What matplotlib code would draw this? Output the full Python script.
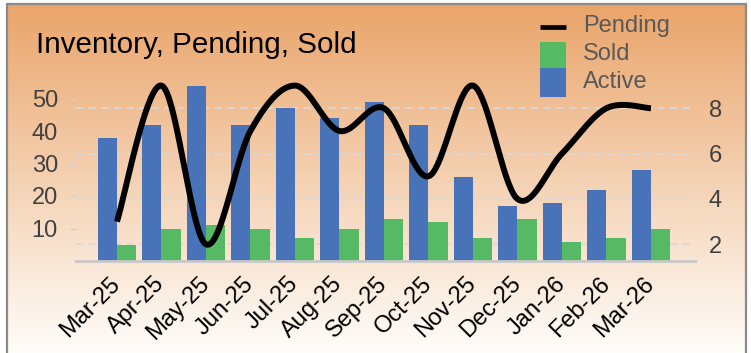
import numpy as np
import matplotlib
matplotlib.use("Agg")
import matplotlib.pyplot as plt
from matplotlib.patches import Rectangle
from matplotlib.lines import Line2D

plt.rcParams['font.family'] = ['Liberation Sans', 'DejaVu Sans']

months = ["Mar-25", "Apr-25", "May-25", "Jun-25", "Jul-25", "Aug-25", "Sep-25",
          "Oct-25", "Nov-25", "Dec-25", "Jan-26", "Feb-26", "Mar-26"]
active = [38, 42, 54, 42, 47, 44, 49, 42, 26, 17, 18, 22, 28]
sold = [5, 10, 11, 10, 7, 10, 13, 12, 7, 13, 6, 7, 10]
pending = [3, 9, 2, 7, 9, 7, 8, 5, 9, 4, 6, 8, 8]

left_ticks = [10, 20, 30, 40, 50]
right_ticks = [2, 4, 6, 8]

BLUE = "#4873B9"
GREEN = "#56B963"
W, H = 751, 353
LEFT_LIM = (0, 56)
RIGHT_LIM = (1.263, 9.29)


def smooth(xs, ys, n=40):
    """Catmull-Rom style Bezier smoothing through the points."""
    xs = np.asarray(xs, float)
    ys = np.asarray(ys, float)
    pts = np.column_stack([xs, ys])
    outx, outy = [], []
    for i in range(len(pts) - 1):
        p1, p2 = pts[i], pts[i + 1]
        p0 = pts[i - 1] if i > 0 else p1
        p3 = pts[i + 2] if i + 2 < len(pts) else p2
        c1 = p1 + (p2 - p0) / 6.0
        c2 = p2 - (p3 - p1) / 6.0
        t = np.linspace(0, 1, n)[:, None]
        seg = ((1 - t) ** 3) * p1 + 3 * ((1 - t) ** 2) * t * c1 \
            + 3 * (1 - t) * t ** 2 * c2 + t ** 3 * p2
        outx.extend(seg[:, 0])
        outy.extend(seg[:, 1])
    return np.array(outx), np.array(outy)


def px(xp, yp):
    """Pixel position (from top-left) to figure fraction."""
    return xp / W, 1 - yp / H


fig = plt.figure(figsize=(W / 100, H / 100), dpi=100)
fig.patch.set_facecolor("white")

# gradient background inside the frame
bg = fig.add_axes([8 / W, 0, (746 - 8) / W, 1 - 5 / H])
bg.set_axis_off()
top = np.array([234, 165, 107]) / 255
bot = np.array([255, 253, 250]) / 255
t = np.linspace(0, 1, 256)[:, None]
grad = top[None, :] * (1 - t) + bot[None, :] * t
bg.imshow(grad[:, None, :], aspect="auto", extent=[0, 1, 0, 1])
bg.set_xlim(0, 1)
bg.set_ylim(0, 1)
fig.patches.append(Rectangle((7 / W, -0.05), (746 - 7) / W, 1.05 - 4 / H,
                             transform=fig.transFigure, fill=False,
                             edgecolor="#8A8A8A", linewidth=1.6, zorder=5))

ax = fig.add_axes([76 / W, 1 - 261 / H, (695 - 76) / W, (261 - 79) / H])
ax.patch.set_alpha(0)
x = np.arange(len(months))
bw = 0.43

# dashed gridlines at the secondary-axis ticks, kept behind the bars
for r in right_ticks:
    v = (r - RIGHT_LIM[0]) / (RIGHT_LIM[1] - RIGHT_LIM[0]) * (LEFT_LIM[1] - LEFT_LIM[0])
    ax.axhline(v, color="#D9D9D9", linestyle=(0, (4, 3)), linewidth=1.3, zorder=1)

ax.bar(x - bw / 2, active, width=bw, color=BLUE, zorder=3)
ax.bar(x + bw / 2, sold, width=bw, color=GREEN, zorder=3)
ax.set_xlim(-0.92, 12.99)
ax.set_ylim(*LEFT_LIM)
ax.set_yticks(left_ticks)
ax.tick_params(axis="y", length=4, width=1, color="#D0D0D0", labelsize=17,
               labelcolor="#404040", pad=9)
ax.set_xticks(x)
ax.set_xticklabels(months, rotation=45, ha="right", va="center",
                   rotation_mode="anchor", fontsize=17, color="black")
ax.tick_params(axis="x", length=0, pad=14)
for s in ["top", "right", "left"]:
    ax.spines[s].set_visible(False)
ax.spines["bottom"].set_color("#C8C8C8")
ax.spines["bottom"].set_linewidth(2)
ax.spines["bottom"].set_zorder(4)

ax2 = ax.twinx()
ax2.set_ylim(*RIGHT_LIM)
ax2.set_yticks(right_ticks)
ax2.tick_params(axis="y", length=0, labelsize=17, labelcolor="#404040", pad=10)
for s in ["top", "right", "left", "bottom"]:
    ax2.spines[s].set_visible(False)
sx, sy = smooth(x, pending)
ax2.plot(sx, sy, color="black", linewidth=4.3, solid_capstyle="butt", zorder=5)
ax2.patch.set_visible(False)
ax.set_zorder(2)
ax2.set_zorder(3)

fig.text(*px(36, 45), "Inventory, Pending, Sold", fontsize=21.3,
         color="black", va="center", ha="left")

# legend: Pending line, Sold and Active swatches stacked
fig.add_artist(Line2D([540 / W, 566 / W], [1 - 27 / H, 1 - 27 / H],
                      transform=fig.transFigure, color="black", linewidth=3.4,
                      solid_capstyle="butt"))
fig.add_artist(Rectangle(px(540, 68), 26 / W, 26 / H, transform=fig.transFigure,
                         facecolor=GREEN, edgecolor="none"))
fig.add_artist(Rectangle(px(540, 97), 26 / W, 29 / H, transform=fig.transFigure,
                         facecolor=BLUE, edgecolor="none"))
for label, yp in [("Pending", 26), ("Sold", 54), ("Active", 82)]:
    fig.text(*px(583, yp), label, fontsize=17, color="#595959",
             va="center", ha="left")

fig.savefig("out.png", dpi=100)
